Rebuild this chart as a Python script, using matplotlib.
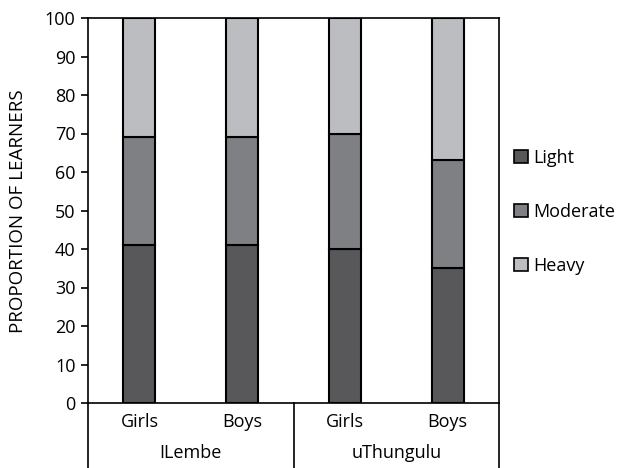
import matplotlib
matplotlib.use("Agg")
import matplotlib.pyplot as plt
from matplotlib.patches import Patch
from matplotlib.lines import Line2D

groups = ["ILembe", "uThungulu"]
categories = ["Girls", "Boys", "Girls", "Boys"]
light = [41, 41, 40, 35]
moderate = [28, 28, 30, 28]
heavy = [31, 31, 30, 37]
series_names = ["Light", "Moderate", "Heavy"]
colors = ["#58585a", "#7f8083", "#bcbdc1"]
yticks = [0, 10, 20, 30, 40, 50, 60, 70, 80, 90, 100]

plt.rcParams['font.family'] = ['Open Sans', 'DejaVu Sans']

fig = plt.figure(figsize=(6.17, 4.68), dpi=100)
ax = fig.add_axes([88/617, 65/468, 411/617, 385/468])

x = list(range(len(categories)))
bottom = [0]*len(x)
for vals, c, name in zip([light, moderate, heavy], colors, series_names):
    ax.bar(x, vals, bottom=bottom, width=0.31, color=c, edgecolor="black", linewidth=1.5, label=name, zorder=3)
    bottom = [b+v for b, v in zip(bottom, vals)]

ax.set_xlim(-0.5, 3.5)
ax.set_ylim(0, 100)
ax.set_yticks(yticks)
ax.set_yticklabels([str(t) for t in yticks], fontsize=13)
ax.tick_params(axis='y', direction='out', length=5, width=1.2, pad=4)
ax.set_xticks([])
for s in ax.spines.values():
    s.set_linewidth(1.2)
fig.text(18/617, 1-211/468, "PROPORTION OF LEARNERS", rotation=90, ha='center', va='center', fontsize=13.5)

# bottom category labels and separators
trans = ax.get_xaxis_transform()
for xi, cat in zip(x, categories):
    ax.text(xi, -0.05, cat, transform=trans, ha='center', va='center', fontsize=13)
for gi, g in enumerate(groups):
    ax.text(gi*2 + 0.5, -0.13, g, transform=trans, ha='center', va='center', fontsize=13)
for xv in [-0.5, 1.5, 3.5]:
    ax.add_line(Line2D([xv, xv], [0, -0.2], transform=trans, color='black', linewidth=1.2, clip_on=False))

handles = [Patch(facecolor=c, edgecolor='black', linewidth=1.2) for c in colors]
fig.legend(handles, series_names, loc='center left', bbox_to_anchor=(507/617, 1-212/468),
           frameon=False, fontsize=13, handlelength=0.75, handleheight=0.75,
           labelspacing=2.0, handletextpad=0.3, borderaxespad=0)

fig.savefig("out.png", dpi=100)
